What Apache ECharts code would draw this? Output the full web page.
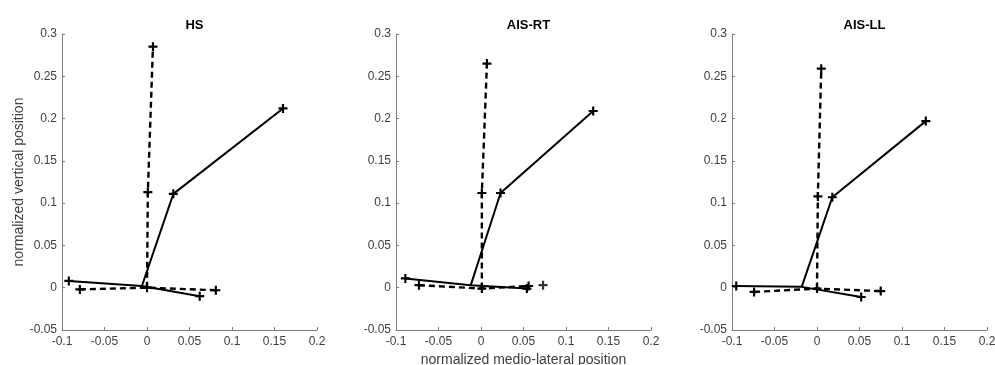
<!DOCTYPE html>
<html>
<head>
<meta charset="utf-8">
<script src="https://cdn.jsdelivr.net/npm/echarts@6/dist/echarts.min.js"></script>
<style>html,body{margin:0;padding:0;background:#fff}#c{width:995px;height:365px}</style>
</head>
<body>
<div id="c"></div>
<script>
// ---- data (normalized positions) ----
const titles = ['HS', 'AIS-RT', 'AIS-LL'];
const xTicks = [-0.1, -0.05, 0, 0.05, 0.1, 0.15, 0.2];
const yTicks = [-0.05, 0, 0.05, 0.1, 0.15, 0.2, 0.25, 0.3];

// HS
const hsSolidML = [[-0.092, 0.008], [-0.006, 0.002], [0.062, -0.010]];
const hsSolidV  = [[-0.006, 0.002], [0.031, 0.111], [0.160, 0.212]];
const hsDashML  = [[-0.079, -0.002], [0.000, 0.000], [0.081, -0.003]];
const hsDashV   = [[0.000, 0.000], [0.001, 0.113], [0.007, 0.285]];
const hsExtra   = [];

// AIS-RT
const rtSolidML = [[-0.089, 0.011], [-0.012, 0.003], [0.054, -0.001]];
const rtSolidV  = [[-0.012, 0.003], [0.023, 0.112], [0.132, 0.209]];
const rtDashML  = [[-0.073, 0.003], [0.001, -0.001], [0.056, 0.002]];
const rtDashV   = [[0.001, -0.001], [0.001, 0.112], [0.007, 0.265]];
const rtExtra   = [[0.073, 0.003]];

// AIS-LL
const llSolidML = [[-0.095, 0.002], [-0.018, 0.001], [0.052, -0.011]];
const llSolidV  = [[-0.018, 0.001], [0.018, 0.107], [0.128, 0.197]];
const llDashML  = [[-0.074, -0.005], [0.000, -0.001], [0.075, -0.004]];
const llDashV   = [[0.000, -0.001], [0.001, 0.108], [0.005, 0.259]];
const llExtra   = [];

const panels = [
  [hsSolidML, hsSolidV, hsDashML, hsDashV, hsExtra],
  [rtSolidML, rtSolidV, rtDashML, rtDashV, rtExtra],
  [llSolidML, llSolidV, llDashML, llDashV, llExtra]
];

// ---- chart ----
const PLUS = 'path://M-1.2,-5L1.2,-5L1.2,-1.2L5,-1.2L5,1.2L1.2,1.2L1.2,5L-1.2,5L-1.2,1.2L-5,1.2L-5,-1.2L-1.2,-1.2Z';
const lefts = [62, 396, 732];
const W = 255, TOP = 34, H = 296;
const axisColor = '#7f7f7f', labelColor = '#404040';
const font = 'Liberation Sans, Arial, sans-serif';

const grids = [], xAxes = [], yAxes = [], series = [], title = [];
panels.forEach((p, i) => {
  grids.push({left: lefts[i], top: TOP, width: W, height: H, containLabel: false, outerBoundsMode: 'none'});
  title.push({
    text: titles[i], left: lefts[i] + W / 2, top: 14, textAlign: 'center',
    textStyle: {fontSize: 13, fontWeight: 'bold', color: '#000', fontFamily: font}
  });
  xAxes.push({
    type: 'value', gridIndex: i, min: xTicks[0], max: xTicks[xTicks.length - 1],
    interval: 0.05,
    name: i === 1 ? 'normalized medio-lateral position' : '',
    nameLocation: 'middle', nameGap: 20,
    nameTextStyle: {fontSize: 14, color: labelColor, fontFamily: font},
    axisLine: {onZero: false, lineStyle: {color: axisColor, width: 1}},
    axisTick: {inside: true, length: 3, lineStyle: {color: axisColor}},
    axisLabel: {fontSize: 12, color: labelColor, margin: 6, fontFamily: font},
    splitLine: {show: false}
  });
  yAxes.push({
    type: 'value', gridIndex: i, min: yTicks[0], max: yTicks[yTicks.length - 1],
    interval: 0.05,
    name: i === 0 ? 'normalized vertical position' : '',
    nameLocation: 'middle', nameGap: 34,
    nameTextStyle: {fontSize: 14, color: labelColor, fontFamily: font},
    axisLine: {show: true, onZero: false, lineStyle: {color: axisColor, width: 1}},
    axisTick: {show: true, inside: true, length: 3, lineStyle: {color: axisColor}},
    axisLabel: {fontSize: 12, color: labelColor, margin: 5, fontFamily: font},
    splitLine: {show: false}
  });
  const [sML, sV, dML, dV, extra] = p;
  const mk = (arr, hideIdx) => arr.map((pt, k) => hideIdx.includes(k) ? {value: pt, symbol: 'none'} : {value: pt});
  const base = (data, dashed, z) => ({
    type: 'line', xAxisIndex: i, yAxisIndex: i, data: data,
    symbol: PLUS, symbolSize: 9, showSymbol: true,
    itemStyle: {color: '#000'},
    lineStyle: {color: '#000', width: dashed ? 2.4 : 2, type: dashed ? [6, 4] : 'solid'},
    z: z, silent: true
  });
  series.push(base(mk(dML, []), true, 2));
  series.push(base(mk(dV, [0]), true, 2));
  series.push(base(mk(sML, [1]), false, 3));
  series.push(base(mk(sV, [0]), false, 3));
  if (extra.length) {
    series.push({type: 'scatter', xAxisIndex: i, yAxisIndex: i, data: extra,
      symbol: PLUS, symbolSize: 9, itemStyle: {color: '#000'}, silent: true});
  }
});

const chart = echarts.init(document.getElementById('c'), null, {renderer: 'canvas'});
chart.setOption({
  animation: false, backgroundColor: '#fff',
  title: title, grid: grids, xAxis: xAxes, yAxis: yAxes, series: series
});
</script>
</body>
</html>
